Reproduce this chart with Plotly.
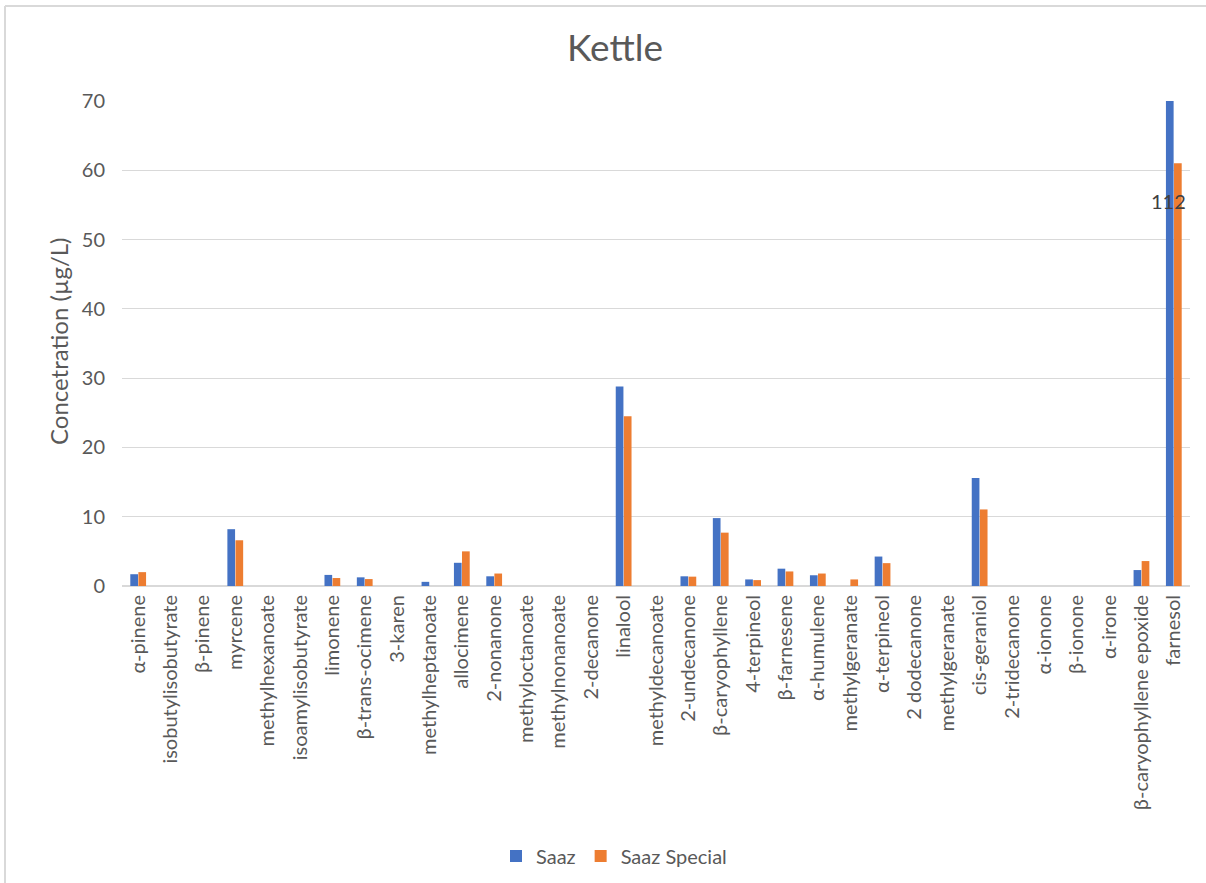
import plotly.graph_objects as go

categories = ["α-pinene", "isobutylisobutyrate", "β-pinene", "myrcene", "methylhexanoate",
              "isoamylisobutyrate", "limonene", "β-trans-ocimene", "3-karen", "methylheptanoate",
              "allocimene", "2-nonanone", "methyloctanoate", "methylnonanoate", "2-decanone",
              "linalool", "methyldecanoate", "2-undecanone", "β-caryophyllene", "4-terpineol",
              "β-farnesene", "α-humulene", "methylgeranate", "α-terpineol", "2 dodecanone",
              "methylgeranate", "cis-geraniol", "2-tridecanone", "α-ionone", "β-ionone",
              "α-irone", "β-caryophyllene epoxide", "farnesol"]

saaz = [1.7, 0, 0, 8.2, 0, 0, 1.6, 1.25, 0, 0.6, 3.35, 1.4, 0, 0, 0,
        28.8, 0, 1.4, 9.8, 0.95, 2.5, 1.55, 0, 4.25, 0, 0, 15.6, 0, 0, 0, 0, 2.3, 112]
saaz_special = [2.0, 0, 0, 6.6, 0, 0, 1.15, 1.0, 0, 0, 5.0, 1.8, 0, 0, 0,
                24.5, 0, 1.35, 7.7, 0.85, 2.1, 1.8, 0.95, 3.3, 0, 0, 11.05, 0, 0, 0, 0, 3.6, 61.0]

x_idx = list(range(len(categories)))

W, H = 1206, 883
ml, mr, mt, mb = 122, 16, 101, 297
pw, ph = W - ml - mr, H - mt - mb

fig = go.Figure()
fig.add_trace(go.Bar(x=x_idx, y=saaz, name="Saaz", marker=dict(color="#4472C4", line=dict(width=0))))
fig.add_trace(go.Bar(x=x_idx, y=saaz_special, name="Saaz Special", marker=dict(color="#ED7D31", line=dict(width=0))))

font_color = "#595959"
fig.update_layout(
    width=W, height=H,
    margin=dict(l=ml, r=mr, t=mt, b=mb, autoexpand=False),
    paper_bgcolor="white", plot_bgcolor="white",
    font=dict(family="Lato", color=font_color, size=20),
    barmode="group", bargap=0.5, bargroupgap=0.05,
    title=dict(text="Kettle", x=615 / W, xanchor="center", xref="container",
               y=1 - 48 / H, yanchor="middle", yref="container",
               font=dict(size=37, color=font_color, family="Lato")),
    xaxis=dict(tickmode="array", tickvals=x_idx, ticktext=categories, tickangle=-90,
               range=[-0.5, len(categories) - 0.5], showgrid=False, showline=False,
               ticks="", tickfont=dict(size=20, color=font_color), ticklabelstandoff=4,
               automargin=False),
    yaxis=dict(range=[0, 70], dtick=10, showgrid=True, gridcolor="#d9d9d9", gridwidth=1,
               zeroline=True, zerolinecolor="#d9d9d9", zerolinewidth=2, showline=False,
               ticks="", tickfont=dict(size=20, color=font_color), ticklabelstandoff=16,
               automargin=False),
    legend=dict(orientation="h", x=(614 - ml) / pw, xanchor="center",
                y=(H - mb - 856) / ph, yanchor="middle", itemwidth=30,
                font=dict(size=20, color=font_color), traceorder="normal"),
    showlegend=True,
)

fig.add_annotation(text="Concetration (µg/L)", x=(58 - ml) / pw, xref="paper",
                   y=(586 - 341) / ph, yref="paper", textangle=-90, showarrow=False,
                   font=dict(size=24, color=font_color), xanchor="center", yanchor="middle")

fig.add_annotation(text=str(saaz[-1]), x=x_idx[-1], xref="x", y=55.5, yref="y",
                   xshift=-5, showarrow=False, font=dict(size=20, color="#404040"))

# chart-area border
bx = (5 - ml) / pw
by = 1 + (mt - 6) / ph
fig.add_shape(type="line", xref="paper", yref="paper", x0=bx, x1=bx, y0=by, y1=-(mb) / ph - 0.05,
              line=dict(color="#d9d9d9", width=2))
fig.add_shape(type="line", xref="paper", yref="paper", x0=bx, x1=1 + (mr + 5) / pw, y0=by, y1=by,
              line=dict(color="#d9d9d9", width=2))

fig.write_html("out.html")
